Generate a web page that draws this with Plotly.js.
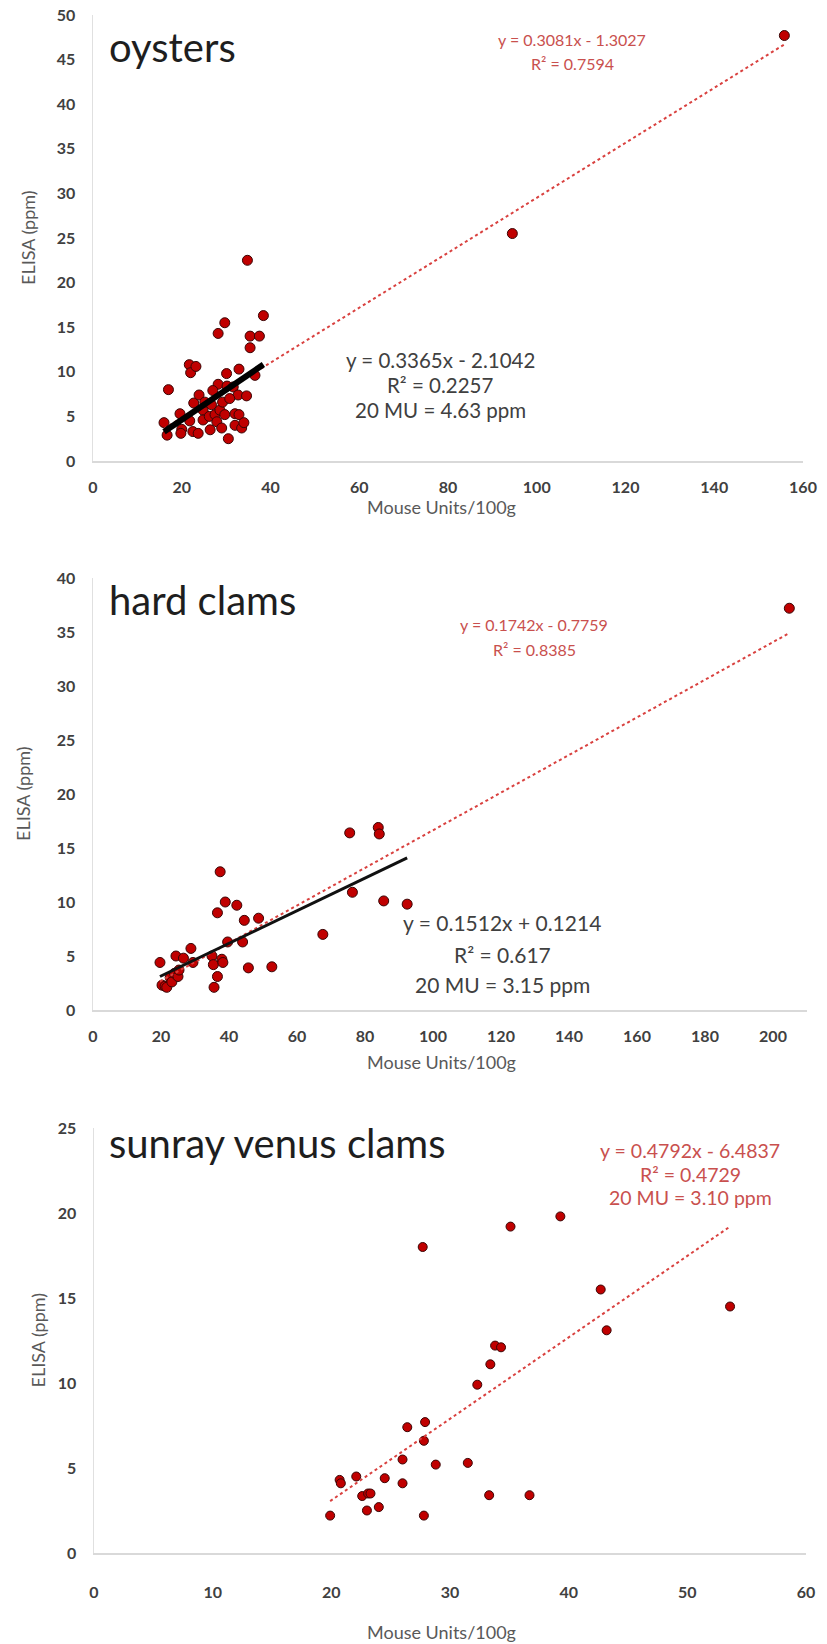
<!DOCTYPE html>
<html>
<head>
<meta charset="utf-8">
<script src="https://cdn.plot.ly/plotly-3.0.1.min.js"></script>
<style>
html,body{margin:0;padding:0;background:#ffffff;}
#chart{width:827px;height:1644px;}
</style>
</head>
<body>
<div id="chart"></div>
<script>
// ---------------- DATA ----------------
const panelTitles = ["oysters", "hard clams", "sunray venus clams"];
const xTitle = "Mouse Units/100g";
const yTitle = "ELISA (ppm)";

// oysters
const oysterMU = [16.0, 16.7, 17.0, 19.6, 20.0, 19.8, 21.7, 22.0, 23.2, 21.8, 22.5, 23.7, 22.7, 23.9, 24.8, 24.8, 25.2, 26.2, 26.4, 26.7, 27.5, 27.9, 28.2, 28.2, 28.6, 29.0, 29.2, 29.7, 29.7, 30.1, 30.2, 30.5, 31.6, 32.0, 32.0, 32.7, 32.9, 32.9, 33.5, 34.0, 34.6, 34.8, 35.4, 35.4, 36.5, 37.5, 38.4, 30.8, 27.0, 94.5, 155.8];
const oysterELISA = [4.3, 2.9, 8.0, 5.3, 3.55, 3.1, 10.8, 9.9, 10.6, 4.5, 3.3, 3.1, 6.5, 7.4, 5.7, 4.6, 6.6, 5.0, 3.5, 6.3, 5.2, 4.4, 14.3, 8.6, 5.7, 3.7, 6.6, 15.5, 5.2, 9.8, 8.4, 2.5, 8.3, 5.3, 4.0, 7.4, 10.3, 5.2, 3.7, 4.3, 7.3, 22.5, 14.0, 12.7, 9.6, 14.0, 16.3, 7.0, 7.9, 25.5, 47.7];
const oysterFitAll = {slope: 0.3081, intercept: -1.3027, xmin: 16.0, xmax: 155.8};
const oysterFitLow = {slope: 0.3365, intercept: -2.1042, xmin: 16.0, xmax: 38.4};
const oysterRedText = ["y = 0.3081x - 1.3027", "R² = 0.7594"];
const oysterBlackText = ["y = 0.3365x - 2.1042", "R² = 0.2257", "20 MU = 4.63 ppm"];

// hard clams
const clamMU = [19.7, 20.3, 21.2, 21.7, 22.7, 23.2, 24.0, 24.4, 25.0, 25.3, 26.6, 28.8, 29.4, 35.0, 35.4, 35.6, 36.6, 36.6, 37.4, 37.9, 38.2, 38.9, 39.6, 42.3, 44.0, 44.5, 45.7, 48.7, 52.6, 67.6, 75.5, 76.3, 83.9, 84.2, 85.5, 92.4, 204.8];
const clamELISA = [4.4, 2.3, 2.2, 2.1, 3.0, 2.6, 3.4, 5.0, 3.1, 3.7, 4.8, 5.7, 4.4, 5.0, 4.2, 2.1, 3.1, 9.0, 12.8, 4.7, 4.4, 10.0, 6.3, 9.7, 6.3, 8.3, 3.9, 8.5, 4.0, 7.0, 16.4, 10.9, 16.9, 16.3, 10.1, 9.8, 37.2];
const clamFitAll = {slope: 0.1742, intercept: -0.7759, xmin: 19.7, xmax: 204.8};
const clamFitLow = {slope: 0.1512, intercept: 0.1214, xmin: 19.7, xmax: 92.4};
const clamRedText = ["y = 0.1742x - 0.7759", "R² = 0.8385"];
const clamBlackText = ["y = 0.1512x + 0.1214", "R² = 0.617", "20 MU = 3.15 ppm"];

// sunray venus clams
const venusMU = [19.9, 20.7, 20.8, 22.1, 22.6, 23.0, 23.1, 23.3, 24.0, 24.5, 26.0, 26.0, 26.4, 27.7, 27.8, 27.8, 27.9, 28.8, 31.5, 32.3, 33.3, 33.4, 33.8, 34.3, 35.1, 36.7, 39.3, 42.7, 43.2, 53.6];
const venusELISA = [2.2, 4.3, 4.1, 4.5, 3.35, 2.5, 3.5, 3.5, 2.7, 4.4, 4.1, 5.5, 7.4, 18.0, 2.2, 6.6, 7.7, 5.2, 5.3, 9.9, 3.4, 11.1, 12.2, 12.1, 19.2, 3.4, 19.8, 15.5, 13.1, 14.5];
const venusFit = {slope: 0.4792, intercept: -6.4837, xmin: 19.9, xmax: 53.6};
const venusRedText = ["y = 0.4792x - 6.4837", "R² = 0.4729", "20 MU = 3.10 ppm"];

// axis ranges / ticks
const xRanges = [[0, 160], [0, 210], [0, 60]];
const xDticks = [20, 20, 10];
const yRanges = [[0, 50], [0, 40], [0, 25]];
const yDticks = [5, 5, 5];

// ---------------- STYLE / LAYOUT ----------------
const W = 827, H = 1644;
const px = x => x / W;
const py = y => 1 - y / H;
const FONT = 'Lato, "Open Sans", "DejaVu Sans", sans-serif';
const markerRed = '#C00000';
const trendRed = '#D9413F';
const textRed = '#C9504E';
const textDark = '#404040';

const tickFont = {family: FONT, size: 16, color: '#404040', weight: 'bold'};

// pixel boxes of the three plot areas: [left, right, top, bottom]
const boxes = [[93, 803, 15, 461], [93, 807, 578, 1010], [94, 806, 1128, 1553]];
const xLabelStandoff = [11, 11, 24];

function fitLine(f, xa, ya, color, width, dash) {
  return {x: [f.xmin, f.xmax], y: [f.slope * f.xmin + f.intercept, f.slope * f.xmax + f.intercept],
          type: 'scatter', mode: 'lines', xaxis: xa, yaxis: ya, hoverinfo: 'skip',
          line: {color: color, width: width, dash: dash}, showlegend: false};
}
function pts(x, y, xa, ya, size) {
  return {x: x, y: y, type: 'scatter', mode: 'markers', xaxis: xa, yaxis: ya, showlegend: false,
          marker: {color: markerRed, size: size, line: {color: '#3a0505', width: 1}}};
}

const data = [
  pts(oysterMU, oysterELISA, 'x', 'y', 10),
  fitLine(oysterFitAll, 'x', 'y', trendRed, 2, 'dot'),
  fitLine(oysterFitLow, 'x', 'y', '#000000', 6, 'solid'),
  pts(clamMU, clamELISA, 'x2', 'y2', 10),
  fitLine(clamFitAll, 'x2', 'y2', trendRed, 2, 'dot'),
  fitLine(clamFitLow, 'x2', 'y2', '#111111', 3, 'solid'),
  pts(venusMU, venusELISA, 'x3', 'y3', 9),
  fitLine(venusFit, 'x3', 'y3', trendRed, 2, 'dot')
];

const layout = {
  width: W, height: H,
  margin: {l: 0, r: 0, t: 0, b: 0},
  paper_bgcolor: '#ffffff', plot_bgcolor: '#ffffff',
  showlegend: false,
  font: {family: FONT},
  annotations: []
};

const axNames = [['xaxis', 'yaxis', 'y', 'x'], ['xaxis2', 'yaxis2', 'y2', 'x2'], ['xaxis3', 'yaxis3', 'y3', 'x3']];
boxes.forEach((b, i) => {
  const [l, r, t, bo] = b;
  layout[axNames[i][0]] = {
    domain: [px(l), px(r)], range: xRanges[i], dtick: xDticks[i], tick0: 0, anchor: axNames[i][2],
    showgrid: false, zeroline: false, showline: true, linecolor: '#d9d9d9', linewidth: 2,
    ticks: '', tickfont: tickFont, ticklabelstandoff: xLabelStandoff[i], fixedrange: true
  };
  layout[axNames[i][1]] = {
    domain: [py(bo), py(t)], range: yRanges[i], dtick: yDticks[i], tick0: 0, anchor: axNames[i][3],
    showgrid: false, zeroline: false, showline: true, linecolor: '#e0e0e0', linewidth: 1.5,
    ticks: '', tickfont: tickFont, ticklabelstandoff: 13, fixedrange: true
  };
});

function ann(text, x, y, size, color, extra) {
  return Object.assign({text: text, xref: 'paper', yref: 'paper', x: px(x), y: py(y),
    xanchor: 'center', yanchor: 'middle', showarrow: false,
    font: {family: FONT, size: size, color: color}}, extra || {});
}

// panel titles
const titleY = [47, 600, 1143];
panelTitles.forEach((t, i) => {
  layout.annotations.push(ann(t, 107, titleY[i], 40, '#1e1e1e', {xanchor: 'left'}));
});
// axis titles
const xTitleY = [507, 1062, 1632];
const yTitleX = [28, 23, 37];
boxes.forEach((b, i) => {
  layout.annotations.push(ann(xTitle, 441, xTitleY[i], 18, '#595959'));
  layout.annotations.push(ann(yTitle, yTitleX[i], (b[2] + b[3]) / 2, 18, '#595959', {textangle: -90}));
});
// equations
const redBlocks = [[oysterRedText, 572, [40, 63], 16], [clamRedText, 534, [624, 649], 16], [venusRedText, 690, [1150, 1174, 1197], 19.5]];
redBlocks.forEach(([lines, x, ys, fs]) => lines.forEach((s, k) => layout.annotations.push(ann(s, x, ys[k], fs, textRed))));
const blackBlocks = [[oysterBlackText, 440, [360, 385, 410], 20.5], [clamBlackText, 502, [923, 954, 984], 21]];
blackBlocks.forEach(([lines, x, ys, fs]) => lines.forEach((s, k) => layout.annotations.push(ann(s, x, ys[k], fs, textDark))));

Plotly.newPlot('chart', data, layout, {staticPlot: true, displayModeBar: false});
</script>
</body>
</html>
